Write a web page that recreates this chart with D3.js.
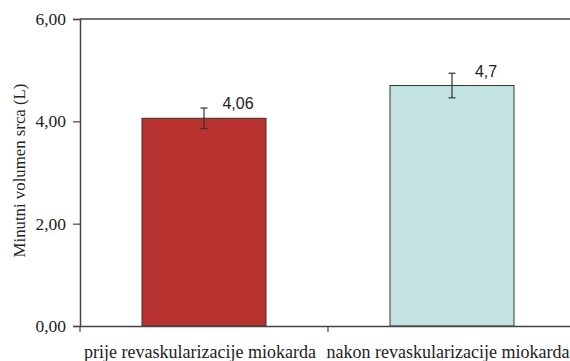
<!DOCTYPE html>
<html>
<head>
<meta charset="utf-8">
<script src="https://cdn.jsdelivr.net/npm/d3@7"></script>
<style>
  html, body { margin: 0; padding: 0; background: #fff; }
  svg { display: block; }
</style>
</head>
<body>
<svg id="chart" width="570" height="361"></svg>
<script>
const categories = ["prije revaskularizacije miokarda", "nakon revaskularizacije miokarda"];
const values = [4.06, 4.7];
const errors = [0.2, 0.24];
const valueLabels = ["4,06", "4,7"];
const yTicks = [0, 2, 4, 6];
const yTickLabels = ["0,00", "2,00", "4,00", "6,00"];
const barColors = ["#b83230", "#c3e3e1"];

(function () {
const svg = d3.select("#chart");
const mLeft = 80, mRight = 576, mTop = 19, mBottom = 326;
const serif = "'Liberation Serif', 'Times New Roman', serif";

const x = d3.scaleBand().domain(categories).range([mLeft, mRight])
  .paddingInner(0.5).paddingOuter(0.25);
const y = d3.scaleLinear().domain([0, 6]).range([mBottom, mTop]);

const axisColor = "#444";

// top frame line
svg.append("line")
  .attr("x1", mLeft).attr("x2", 570)
  .attr("y1", y(6)).attr("y2", y(6))
  .attr("stroke", axisColor).attr("stroke-width", 1.3);

// bars
svg.selectAll("rect.bar").data(categories).enter().append("rect")
  .attr("class", "bar")
  .attr("x", d => x(d))
  .attr("width", x.bandwidth())
  .attr("y", (d, i) => y(values[i]))
  .attr("height", (d, i) => y(0) - y(values[i]))
  .attr("fill", (d, i) => barColors[i])
  .attr("stroke", "#333")
  .attr("stroke-width", 1);

// error bars
const eb = svg.selectAll("g.err").data(categories).enter().append("g")
  .attr("class", "err")
  .attr("stroke", "#333").attr("stroke-width", 1.2);
eb.append("line")
  .attr("x1", d => x(d) + x.bandwidth() / 2)
  .attr("x2", d => x(d) + x.bandwidth() / 2)
  .attr("y1", (d, i) => y(values[i] + errors[i]))
  .attr("y2", (d, i) => y(values[i] - errors[i]));
[1, -1].forEach(s => {
  eb.append("line")
    .attr("x1", d => x(d) + x.bandwidth() / 2 - 3.5)
    .attr("x2", d => x(d) + x.bandwidth() / 2 + 3.5)
    .attr("y1", (d, i) => y(values[i] + s * errors[i]))
    .attr("y2", (d, i) => y(values[i] + s * errors[i]));
});

// value labels
svg.selectAll("text.val").data(categories).enter().append("text")
  .attr("class", "val")
  .attr("x", d => x(d) + x.bandwidth() / 2 + 34)
  .attr("y", (d, i) => y(values[i]) - 9)
  .attr("text-anchor", "middle")
  .attr("font-family", "'Liberation Sans', Arial, sans-serif")
  .attr("font-size", 16)
  .attr("fill", "#222")
  .text((d, i) => valueLabels[i]);

// y axis
const yAxis = d3.axisLeft(y).tickValues(yTicks)
  .tickFormat((d, i) => yTickLabels[i]).tickSize(7).tickPadding(7);
const gy = svg.append("g").attr("transform", `translate(${mLeft},0)`).call(yAxis);
gy.attr("font-family", serif).attr("font-size", 17.5);
gy.select(".domain").attr("stroke", axisColor).attr("stroke-width", 1.5);
gy.selectAll(".tick line").attr("stroke", axisColor).attr("stroke-width", 1.2);
gy.selectAll(".tick text").attr("fill", "#222");

// x axis
const xAxis = d3.axisBottom(x).tickSize(0).tickPadding(0);
const gx = svg.append("g").attr("transform", `translate(0,${mBottom})`).call(xAxis);
gx.attr("font-family", serif).attr("font-size", 18);
gx.select(".domain").attr("stroke", axisColor).attr("stroke-width", 1.5);
gx.selectAll(".tick text").attr("y", 19).attr("dx", -4).attr("fill", "#222");
// band-boundary tick marks
const boundaries = [mLeft, (x(categories[0]) + x.bandwidth() + x(categories[1])) / 2];
svg.selectAll("line.xtick").data(boundaries).enter().append("line")
  .attr("class", "xtick")
  .attr("x1", d => d).attr("x2", d => d)
  .attr("y1", mBottom).attr("y2", mBottom + 6)
  .attr("stroke", axisColor).attr("stroke-width", 1.2);

// y axis title
svg.append("text")
  .attr("transform", `translate(25,${(mTop + mBottom) / 2 - 2}) rotate(-90)`)
  .attr("text-anchor", "middle")
  .attr("font-family", serif)
  .attr("font-size", 16.8)
  .attr("fill", "#222")
  .text("Minutni volumen srca (L)");
})();
</script>
</body>
</html>
